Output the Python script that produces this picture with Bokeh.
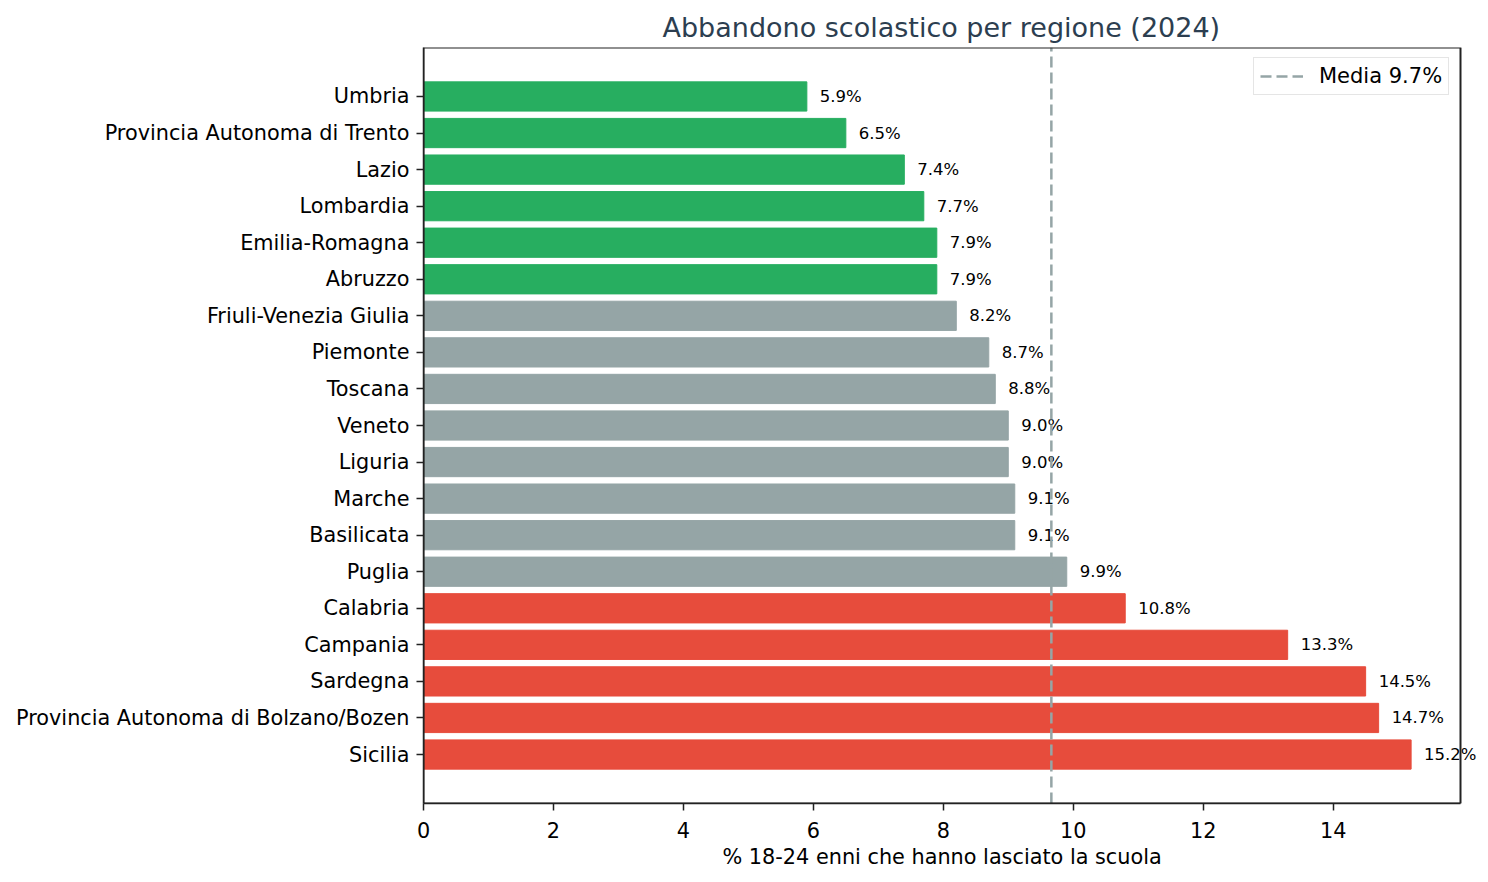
import numpy as np
from bokeh.plotting import figure
from bokeh.models import (ColumnDataSource, Range1d, FixedTicker, Legend, LegendItem,
                          BoxAnnotation, Title)
from bokeh.embed import file_html
from bokeh.resources import INLINE

# Data (top to bottom as shown)
regions = ["Umbria", "Provincia Autonoma di Trento", "Lazio", "Lombardia", "Emilia-Romagna",
           "Abruzzo", "Friuli-Venezia Giulia", "Piemonte", "Toscana", "Veneto", "Liguria",
           "Marche", "Basilicata", "Puglia", "Calabria", "Campania", "Sardegna",
           "Provincia Autonoma di Bolzano/Bozen", "Sicilia"]
rates = [5.9, 6.5, 7.4, 7.7, 7.9, 7.9, 8.2, 8.7, 8.8, 9.0, 9.0, 9.1, 9.1, 9.9, 10.8, 13.3, 14.5, 14.7, 15.2]
groups = ["low"] * 6 + ["mid"] * 8 + ["high"] * 5
x_ticks = [0, 2, 4, 6, 8, 10, 12, 14]

palette = {"low": "#27ae60", "mid": "#95a5a6", "high": "#e74c3c"}
FONT = "DejaVu Sans"
SPINE = "#222222"

n = len(regions)
ypos = [n - 1 - i for i in range(n)]
mean_val = float(np.mean(rates))

# layout (pixels)
W, H = 1488, 882
LEFT, TOP, BOTTOM = 423, 47, 79
BOX_W = 1037                      # width of the visible axes box
FRAME_W = W - LEFT                # frame runs to the canvas edge so value labels are not clipped

x_box_end = max(rates) * 1.05
x_frame_end = x_box_end * FRAME_W / BOX_W
y_lo, y_hi = -1.34, n - 1 + 1.34

src = ColumnDataSource(dict(
    y=ypos, right=rates, color=[palette[g] for g in groups],
    lx=[r + 0.2 for r in rates], lab=[f"{r:.1f}%" for r in rates],
))

p = figure(width=W, height=H, output_backend="svg", toolbar_location=None,
           x_range=Range1d(0, x_frame_end), y_range=Range1d(y_lo, y_hi),
           min_border_left=LEFT, min_border_right=0, min_border_top=TOP, min_border_bottom=BOTTOM)

p.hbar(y="y", right="right", left=0, height=0.8, color="color", source=src)
p.text(x="lx", y="y", text="lab", source=src, text_baseline="middle", text_align="left",
       text_font={"value": FONT}, text_font_size="16.5px", text_color="black")

ln = p.line(x=[mean_val, mean_val], y=[y_lo, y_hi], line_color="#95a5a6",
            line_width=2.5, line_dash="11 5")

# axes box (top/right spines)
p.add_layout(BoxAnnotation(left=0, right=x_box_end, fill_alpha=0, line_color=SPINE,
                           line_width=2, line_alpha=1))

leg = Legend(items=[LegendItem(label=f"Media {mean_val:.1f}%", renderers=[ln])],
             location=(830, 708))
leg.label_text_font = FONT
leg.label_text_font_size = "21px"
leg.label_text_color = "black"
leg.border_line_color = "#cccccc"
leg.border_line_width = 1.5
leg.padding = 6
leg.glyph_width = 43
leg.label_standoff = 16
leg.background_fill_alpha = 0.8
p.add_layout(leg)

p.title.text = "Abbandono scolastico per regione (2024)"
p.title.align = "left"
p.title.offset = 239
p.title.text_font = FONT
p.title.text_font_size = "27px"
p.title.text_font_style = "normal"
p.title.text_color = "#2c3e50"
p.title.standoff = 9

# x axis title, centred under the visible axes box
p.add_layout(Title(text="% 18-24 enni che hanno lasciato la scuola", align="left", offset=299,
                   text_font=FONT, text_font_size="20.8px", text_font_style="normal",
                   text_color="black", standoff=4), "below")

p.xaxis.ticker = FixedTicker(ticks=x_ticks)
p.xaxis.bounds = (0, x_box_end)
p.yaxis.ticker = FixedTicker(ticks=ypos)
p.yaxis.major_label_overrides = {y: r for y, r in zip(ypos, regions)}

for ax in (p.xaxis[0], p.yaxis[0]):
    ax.major_label_text_font = FONT
    ax.major_label_text_font_size = "20.8px"
    ax.major_label_text_color = "black"
    ax.axis_line_color = SPINE
    ax.axis_line_width = 1.5
    ax.major_tick_line_color = SPINE
    ax.major_tick_line_width = 1.5
    ax.major_tick_out = 7
    ax.major_tick_in = 0
    ax.minor_tick_out = 0
    ax.minor_tick_in = 0
    ax.major_label_standoff = 7
p.xaxis.major_label_standoff = 11

p.grid.visible = False
p.outline_line_color = None

open("out.html", "w").write(file_html(p, INLINE))
